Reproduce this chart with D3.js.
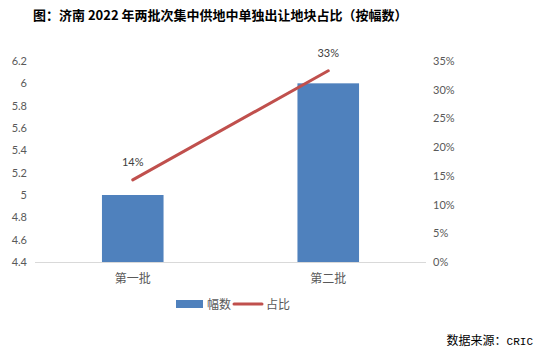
<!DOCTYPE html>
<html><head><meta charset="utf-8">
<script src="https://cdn.jsdelivr.net/npm/d3@7"></script>
<style>body{margin:0;background:#fff}svg{display:block}</style>
</head><body>
<script>
const categories = ["第一批", "第二批"];
const countValues = [5, 6];
const shareValues = [0.143, 0.333];
const shareLabels = ["14%", "33%"];
const leftTicks = [4.4, 4.6, 4.8, 5, 5.2, 5.4, 5.6, 5.8, 6, 6.2];
const rightTicks = [0, 0.05, 0.1, 0.15, 0.2, 0.25, 0.3, 0.35];
const seriesNames = ["幅数", "占比"];

const W = 544, H = 358;
const m = {l: 35, r: 118, t: 61, b: 96};
const svg = d3.select("body").append("svg").attr("width", W).attr("height", H);
const cjk = "'Noto Sans CJK SC', sans-serif";
const num = "Lato, 'Open Sans', sans-serif";
const grey = "#595959";

svg.append("text").attr("x", 33).attr("y", 20)
  .attr("font-family", cjk).attr("font-weight", "bold").attr("font-size", 13).attr("fill", "#000")
  .text("图：济南 2022 年两批次集中供地中单独出让地块占比（按幅数）");

const x = d3.scaleBand().domain(categories).range([m.l, W - m.r]).padding(0);
const yL = d3.scaleLinear().domain([4.4, 6.2]).range([H - m.b, m.t]);
const yR = d3.scaleLinear().domain([0, 0.35]).range([H - m.b, m.t]);

// left axis
const gl = svg.append("g").attr("transform", `translate(${m.l},0)`)
  .call(d3.axisLeft(yL).tickValues(leftTicks).tickSize(0).tickPadding(8).tickFormat(d3.format("")));
gl.select(".domain").remove();
gl.selectAll("text").attr("font-family", num).attr("font-size", 11).attr("fill", grey);

// right axis
const gr = svg.append("g").attr("transform", `translate(${W - m.r},0)`)
  .call(d3.axisRight(yR).tickValues(rightTicks).tickSize(0).tickPadding(7).tickFormat(d3.format(".0%")));
gr.select(".domain").remove();
gr.selectAll("text").attr("font-family", num).attr("font-size", 11).attr("fill", grey);

// bars
const bw = x.bandwidth() * 0.315;
svg.append("g").selectAll("rect").data(categories).join("rect")
  .attr("x", (d) => x(d) + x.bandwidth() / 2 - bw / 2)
  .attr("y", (d, i) => yL(countValues[i]))
  .attr("width", bw)
  .attr("height", (d, i) => yL(4.4) - yL(countValues[i]))
  .attr("fill", "#4f81bd");

// baseline
svg.append("line").attr("x1", m.l).attr("x2", W - m.r)
  .attr("y1", yL(4.4) + 0.5).attr("y2", yL(4.4) + 0.5)
  .attr("stroke", "#d9d9d9").attr("stroke-width", 1);

// x labels
svg.append("g").selectAll("text").data(categories).join("text")
  .attr("x", (d) => x(d) + x.bandwidth() / 2).attr("y", yL(4.4) + 21)
  .attr("text-anchor", "middle").attr("font-family", cjk).attr("font-size", 12).attr("fill", grey)
  .text((d) => d);

// line
const line = d3.line().x((d, i) => x(categories[i]) + x.bandwidth() / 2).y((d) => yR(d));
svg.append("path").datum(shareValues).attr("d", line)
  .attr("fill", "none").attr("stroke", "#c0504d").attr("stroke-width", 3).attr("stroke-linecap", "round");

svg.append("g").selectAll("text").data(shareValues).join("text")
  .attr("x", (d, i) => x(categories[i]) + x.bandwidth() / 2)
  .attr("y", (d) => yR(d) - 14)
  .attr("text-anchor", "middle").attr("font-family", num).attr("font-size", 11).attr("fill", "#404040")
  .text((d, i) => shareLabels[i]);

// legend
const ly = 304;
svg.append("rect").attr("x", 176).attr("y", ly - 4).attr("width", 27).attr("height", 8).attr("fill", "#4f81bd");
svg.append("text").attr("x", 207).attr("y", ly + 4.5).attr("font-family", cjk).attr("font-size", 12).attr("fill", grey).text(seriesNames[0]);
svg.append("line").attr("x1", 234).attr("x2", 262).attr("y1", ly).attr("y2", ly)
  .attr("stroke", "#c0504d").attr("stroke-width", 3).attr("stroke-linecap", "round");
svg.append("text").attr("x", 266).attr("y", ly + 4.5).attr("font-family", cjk).attr("font-size", 12).attr("fill", grey).text(seriesNames[1]);

// source
const src = svg.append("text").attr("x", 533).attr("y", 345).attr("text-anchor", "end")
  .attr("font-family", cjk).attr("font-size", 12).attr("fill", "#000");
src.append("tspan").text("数据来源：");
src.append("tspan").attr("font-family", "'Liberation Mono', monospace").attr("font-size", 11).text("CRIC");
</script>
</body></html>
